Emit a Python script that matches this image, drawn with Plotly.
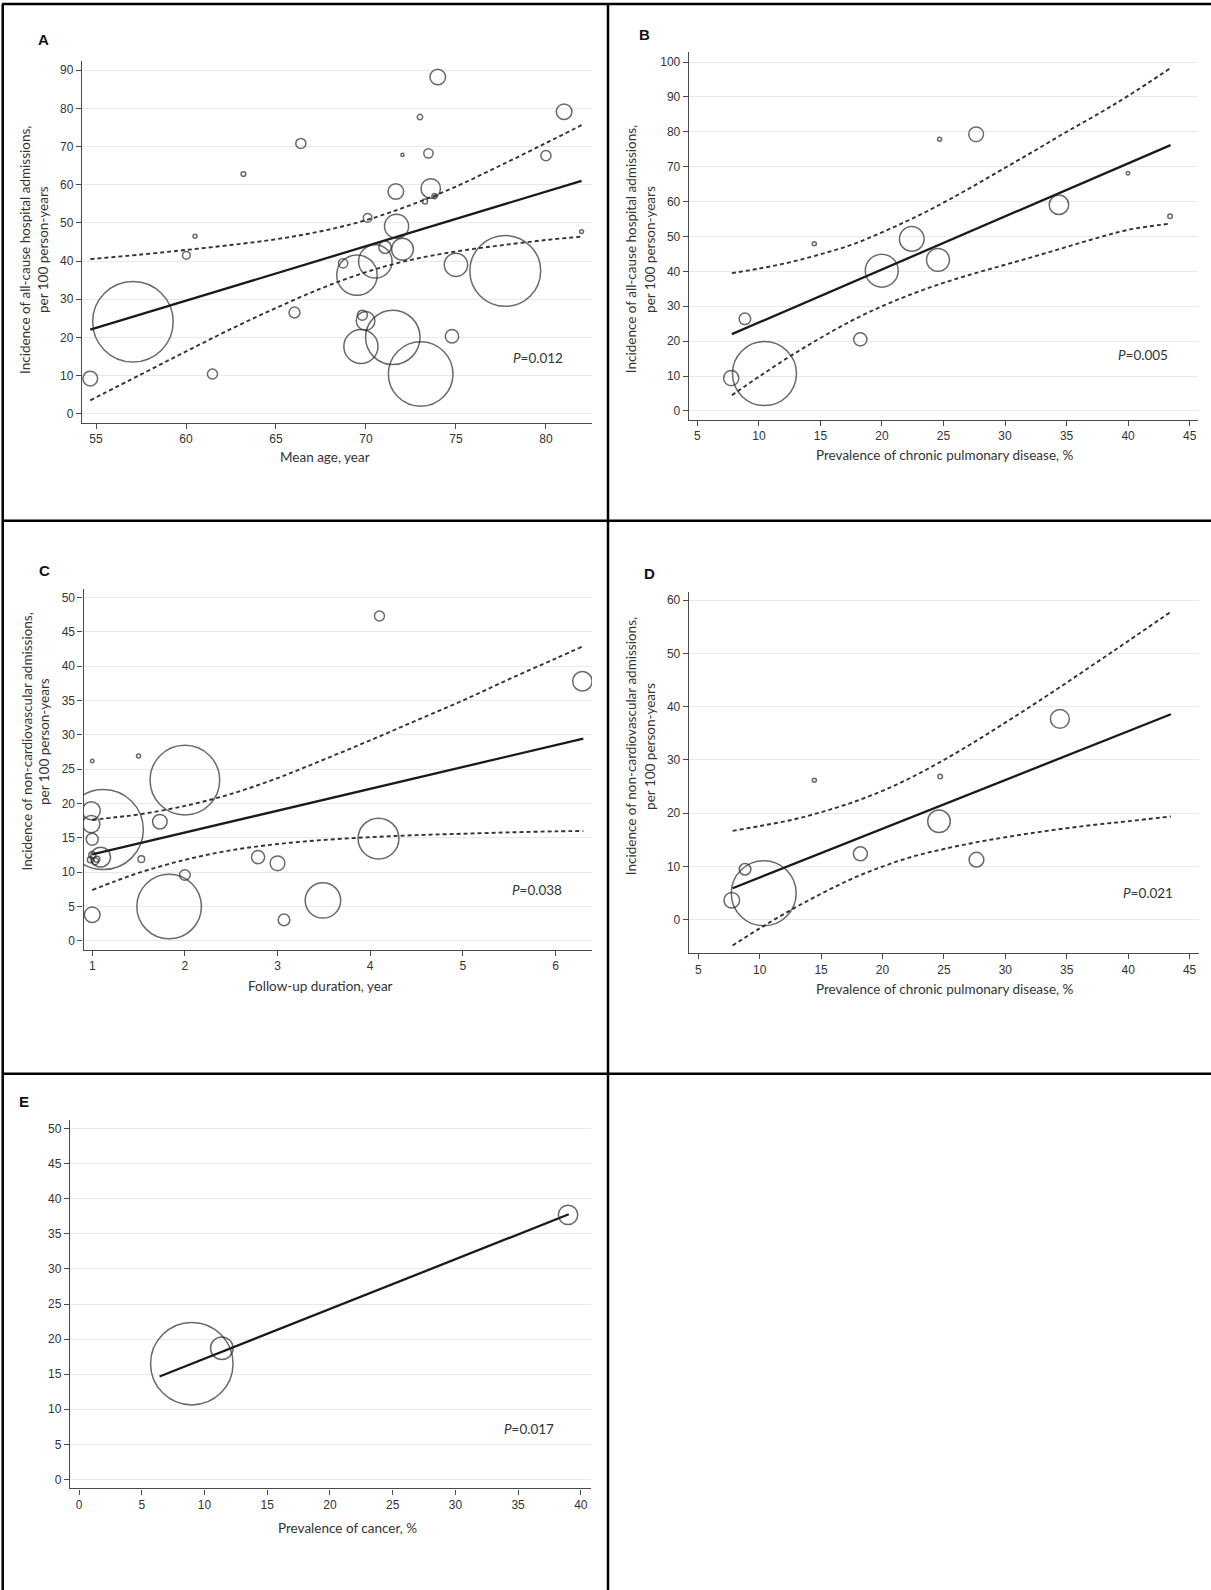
import plotly.graph_objects as go

W, H = 1211, 1590

# ---------------- Panel A: mean age vs all-cause admissions ----------------
a_x = [57.05, 54.68, 60.02, 60.5, 63.19, 61.47, 66.38, 66.03, 68.73, 69.5, 69.72, 69.8,
       69.98, 70.09, 70.52, 71.06, 71.49, 71.66, 71.7, 72.03, 72.03, 73.0, 73.04, 73.28,
       73.47, 73.6, 73.81, 73.99, 74.78, 75.0, 77.74, 80.0, 81.01, 81.98]
a_y = [24.1, 9.2, 41.5, 46.5, 62.8, 10.4, 70.8, 26.5, 39.4, 36.3, 17.6, 25.8,
       24.3, 51.3, 39.9, 43.6, 20.0, 58.2, 49.1, 43.1, 67.8, 77.7, 10.4, 55.6,
       68.2, 59.0, 57.0, 88.2, 20.3, 39.0, 37.4, 67.6, 79.1, 47.7]
a_w = [80, 2.7, 0.75, 0.19, 0.27, 1.26, 1.26, 1.47, 1.07, 20.2, 14.4, 1.26,
       4.3, 0.9, 13.8, 1.9, 36.6, 3.0, 7.2, 5.9, 0.12, 0.37, 51.5, 0.31,
       1.07, 4.7, 0.37, 3.0, 2.2, 6.7, 61.9, 1.26, 3.0, 0.19]
a_fit_x = [54.68, 81.98]
a_fit_y = [22.0, 61.0]
a_ci_x = [54.68, 57.5, 60, 62.5, 65, 67.5, 70, 72.5, 75, 77.5, 80, 81.98]
a_ci_hi = [40.5, 41.7, 42.9, 44.2, 45.7, 47.8, 50.7, 54.7, 59.5, 65.1, 70.9, 75.6]
a_ci_lo = [3.5, 10.3, 16.3, 22.2, 27.7, 32.8, 37.1, 40.3, 42.5, 44.1, 45.5, 46.4]

# ---------------- Panel B: chronic pulmonary disease vs all-cause admissions ----------------
b_x = [7.75, 8.86, 10.45, 14.5, 18.24, 19.98, 22.42, 24.55, 24.68, 27.65, 34.38, 39.99, 43.41]
b_y = [9.4, 26.4, 10.7, 47.9, 20.5, 40.2, 49.3, 43.3, 77.9, 79.3, 59.1, 68.1, 55.8]
b_w = [2.85, 1.66, 50.6, 0.2, 2.15, 13.4, 7.5, 6.5, 0.2, 2.7, 4.7, 0.15, 0.26]
b_fit_x = [7.8, 43.45]
b_fit_y = [22.0, 76.2]
b_ci_x = [7.8, 10, 12.5, 15, 17.5, 20, 22.5, 25, 27.5, 30, 32.5, 35, 37.5, 40, 43.45]
b_ci_hi = [39.5, 40.8, 42.6, 44.9, 47.6, 51.2, 55.2, 59.7, 64.6, 69.7, 74.8, 80.0, 85.0, 90.3, 98.3]
b_ci_lo = [4.5, 9.8, 15.6, 20.9, 25.8, 30.0, 33.6, 36.7, 39.4, 41.9, 44.4, 47.0, 49.6, 51.9, 53.7]

# ---------------- Panel C: follow-up duration vs non-cardiovascular admissions ----------------
c_x = [1.0, 1.5, 4.1, 6.29, 2.0, 1.12, 0.99, 0.99, 1.0, 1.09, 1.0, 0.98,
       1.03, 1.05, 1.53, 1.73, 2.0, 1.0, 1.83, 2.79, 3.0, 3.07, 3.49, 4.09]
c_y = [26.2, 26.9, 47.3, 37.8, 23.4, 16.2, 18.95, 17.0, 14.8, 12.2, 12.5, 11.8,
       11.6, 11.9, 11.9, 17.35, 9.6, 3.8, 5.0, 12.2, 11.3, 3.06, 5.9, 14.9]
c_w = [0.15, 0.2, 1.23, 4.65, 59.8, 79, 4.0, 3.6, 1.78, 4.9, 0.6, 0.44,
       0.6, 0.44, 0.55, 2.6, 1.4, 3.0, 51.5, 2.15, 2.7, 1.66, 15.5, 20.6]
c_fit_x = [1.0, 6.3]
c_fit_y = [12.6, 29.45]
c_ci_x = [1.0, 1.25, 1.5, 2, 2.5, 3, 3.5, 4, 4.5, 5, 5.5, 6, 6.3]
c_ci_hi = [17.6, 18.0, 18.4, 19.65, 21.4, 23.7, 26.4, 29.2, 32.1, 35.0, 38.1, 41.1, 42.9]
c_ci_lo = [7.4, 8.7, 9.9, 11.8, 13.2, 14.1, 14.7, 15.1, 15.4, 15.6, 15.8, 15.95, 16.0]

# ---------------- Panel D: chronic pulmonary disease vs non-cardiovascular admissions ----------------
d_x = [7.73, 8.81, 10.33, 14.45, 18.2, 24.6, 24.7, 27.65, 34.44]
d_y = [3.7, 9.5, 5.0, 26.2, 12.4, 18.5, 26.9, 11.3, 37.7]
d_w = [3.0, 1.66, 52, 0.2, 2.4, 6.3, 0.25, 2.7, 4.4]
d_fit_x = [7.8, 43.48]
d_fit_y = [5.94, 38.57]
d_ci_x = [7.8, 10, 12.5, 15, 17.5, 20, 22.5, 25, 27.5, 30, 32.5, 35, 37.5, 40, 43.48]
d_ci_hi = [16.7, 17.6, 18.7, 20.2, 22.0, 24.2, 26.9, 30.0, 33.4, 37.0, 40.7, 44.5, 48.4, 52.3, 57.8]
d_ci_lo = [-4.8, -1.6, 1.8, 4.9, 7.7, 10.0, 11.9, 13.3, 14.5, 15.5, 16.4, 17.2, 17.9, 18.5, 19.4]

# ---------------- Panel E: cancer prevalence vs non-cardiovascular admissions ----------------
e_x = [8.99, 11.38, 38.98]
e_y = [16.5, 18.7, 37.7]
e_w = [84, 6.3, 4.65]
e_fit_x = [6.42, 39.04]
e_fit_y = [14.67, 37.78]

# axis ticks
a_xticks = [55, 60, 65, 70, 75, 80]
a_yticks = [0, 10, 20, 30, 40, 50, 60, 70, 80, 90]
b_xticks = [5, 10, 15, 20, 25, 30, 35, 40, 45]
b_yticks = [0, 10, 20, 30, 40, 50, 60, 70, 80, 90, 100]
c_xticks = [1, 2, 3, 4, 5, 6]
c_yticks = [0, 5, 10, 15, 20, 25, 30, 35, 40, 45, 50]
d_xticks = [5, 10, 15, 20, 25, 30, 35, 40, 45]
d_yticks = [0, 10, 20, 30, 40, 50, 60]
e_xticks = [0, 5, 10, 15, 20, 25, 30, 35, 40]
e_yticks = [0, 5, 10, 15, 20, 25, 30, 35, 40, 45, 50]

AX = "#4a4a4a"
TXT = "#333333"
GRID = "#e9e9e9"
TICK_FONT = dict(family="Liberation Sans, Arial, sans-serif", size=12, color=TXT)
TITLE_FONT = dict(family="Lato, Liberation Sans, sans-serif", size=13.5, color="#333333")


def diam(w):
    # bubble area proportional to the analytic weight
    return [9.0 * v ** 0.5 for v in w]


fig = go.Figure()
layout = {}


def add_panel(idx, box, xr, yr, xt, yt, x, y, w, fx, fy, cx=None, chi=None, clo=None):
    xa = "x" if idx == 1 else f"x{idx}"
    ya = "y" if idx == 1 else f"y{idx}"
    l, t, r, b = box
    common = dict(showline=True, linecolor=AX, linewidth=1.4, ticks="outside",
                  ticklen=5, tickwidth=1.2, tickcolor=AX, tickfont=TICK_FONT,
                  zeroline=False, fixedrange=True)
    layout["xaxis" if idx == 1 else f"xaxis{idx}"] = dict(
        domain=[l / W, r / W], range=xr, tickvals=xt, showgrid=False,
        anchor=ya, **common)
    layout["yaxis" if idx == 1 else f"yaxis{idx}"] = dict(
        domain=[1 - b / H, 1 - t / H], range=yr, tickvals=yt, showgrid=True,
        gridcolor=GRID, gridwidth=1.2, anchor=xa, **common)
    if cx is not None:
        for cy in (chi, clo):
            fig.add_trace(go.Scatter(
                x=cx, y=cy, mode="lines", xaxis=xa, yaxis=ya, hoverinfo="skip",
                line=dict(color="#333333", width=1.9, dash="4px,3px",
                          shape="spline", smoothing=1.0),
                showlegend=False))
    fig.add_trace(go.Scatter(
        x=fx, y=fy, mode="lines", xaxis=xa, yaxis=ya,
        line=dict(color="#1a1a1a", width=2.3), showlegend=False))
    fig.add_trace(go.Scatter(
        x=x, y=y, mode="markers", xaxis=xa, yaxis=ya,
        marker=dict(symbol="circle-open", size=diam(w), color="#2a2a2a",
                    line=dict(color="#2a2a2a", width=1.5)),
        showlegend=False))


add_panel(1, (82, 61, 592, 422.7), [54.22, 82.56], [-2.36, 92.4], a_xticks, a_yticks,
          a_x, a_y, a_w, a_fit_x, a_fit_y, a_ci_x, a_ci_hi, a_ci_lo)
add_panel(2, (688.9, 52.3, 1198, 419.5), [4.31, 45.68], [-2.46, 102.8], b_xticks, b_yticks,
          b_x, b_y, b_w, b_fit_x, b_fit_y, b_ci_x, b_ci_hi, b_ci_lo)
add_panel(3, (83.6, 588.5, 592, 949.5), [0.907, 6.394], [-1.25, 51.3], c_xticks, c_yticks,
          c_x, c_y, c_w, c_fit_x, c_fit_y, c_ci_x, c_ci_hi, c_ci_lo)
add_panel(4, (688.9, 592, 1199.4, 952.9), [4.24, 45.8], [-6.19, 61.5], d_xticks, d_yticks,
          d_x, d_y, d_w, d_fit_x, d_fit_y, d_ci_x, d_ci_hi, d_ci_lo)
add_panel(5, (70, 1119.6, 590.5, 1488.4), [-0.72, 40.77], [-1.27, 51.27], e_xticks, e_yticks,
          e_x, e_y, e_w, e_fit_x, e_fit_y)

annotations = []


def note(text, px, py, font, angle=0):
    annotations.append(dict(text=text, x=px / W, y=1 - py / H, xref="paper", yref="paper",
                            xanchor="center", yanchor="middle", showarrow=False,
                            textangle=angle, font=font))


LETTER = dict(family="Liberation Sans, Arial, sans-serif", size=15, color="#111111")
for letter, px, py in [("A", 43.3, 40), ("B", 644.8, 34.4), ("C", 44.7, 570.6),
                       ("D", 649.9, 573), ("E", 24.1, 1101.7)]:
    note(f"<b>{letter}</b>", px, py, LETTER)

# y-axis titles (two lines each)
for x1, x2, yc, first in [(25, 43, 250, "Incidence of all-cause hospital admissions,"),
                          (631.2, 649.9, 249, "Incidence of all-cause hospital admissions,"),
                          (26.5, 44, 742, "Incidence of non-cardiovascular admissions,"),
                          (631.2, 649.9, 746, "Incidence of non-cardiovascular admissions,")]:
    note(first, x1, yc, TITLE_FONT, -90)
    note("per 100 person-years", x2, yc, TITLE_FONT, -90)

# x-axis titles
note("Mean age, year", 325, 457, TITLE_FONT)
note("Prevalence of chronic pulmonary disease, %", 944.5, 455.3, TITLE_FONT)
note("Follow-up duration, year", 320.2, 986.3, TITLE_FONT)
note("Prevalence of chronic pulmonary disease, %", 945.3, 989, TITLE_FONT)
note("Prevalence of cancer, %", 347.4, 1528, TITLE_FONT)

# P values of the meta-regressions
for ptxt, px, py in [("0.012", 537.7, 358.3), ("0.005", 1142.8, 354.7), ("0.038", 536.8, 890.3),
                     ("0.021", 1147.5, 893.3), ("0.017", 529, 1428.8)]:
    note(f"<i>P</i>={ptxt}", px, py, TITLE_FONT)

# table frame around the panels
shapes = []
BORDER = dict(color="#000000", width=2.5)
for y in (4, 520.7, 1073.7):
    shapes.append(dict(type="line", xref="paper", yref="paper", x0=2 / W, x1=1,
                       y0=1 - y / H, y1=1 - y / H, line=BORDER))
for x in (2.7, 608):
    shapes.append(dict(type="line", xref="paper", yref="paper", x0=x / W, x1=x / W,
                       y0=1 - 4 / H, y1=0, line=BORDER))

fig.update_layout(width=W, height=H, margin=dict(l=0, r=0, t=0, b=0),
                  paper_bgcolor="white", plot_bgcolor="white",
                  annotations=annotations, shapes=shapes, **layout)

fig.write_html("out.html")
